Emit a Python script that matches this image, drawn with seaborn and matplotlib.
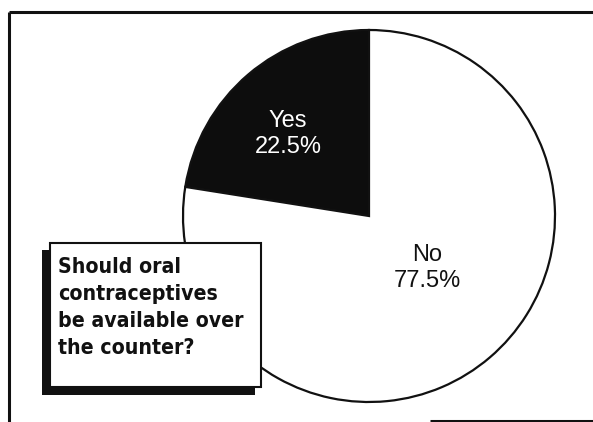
import matplotlib
matplotlib.use("Agg")
import matplotlib.pyplot as plt
import seaborn as sns
from matplotlib.patches import Rectangle

categories = ["Yes", "No"]
shares = [22.5, 77.5]
value_labels = ["22.5%", "77.5%"]
question = "Should oral\ncontraceptives\nbe available over\nthe counter?"

sns.set_theme(style="white")
plt.rcParams["font.family"] = ["Liberation Sans", "DejaVu Sans"]

W, H = 593, 422
fig = plt.figure(figsize=(W / 100, H / 100), dpi=100)
ax = fig.add_axes([0, 0, 1, 1])

def py(y):
    return H - y

cx, cy, r = 369, 216, 186
ax.pie(shares, colors=["#0d0d0d", "white"], startangle=90, counterclock=True,
       center=(cx, py(cy)), radius=r,
       wedgeprops=dict(edgecolor="#111111", linewidth=1.6))

ax.set_xlim(0, W)
ax.set_ylim(0, H)
ax.set_aspect("auto")
ax.axis("off")

# slice labels
ax.text(288, py(134), f"{categories[0]}\n{value_labels[0]}", color="white",
        ha="center", va="center", fontsize=17, linespacing=1.2)
ax.text(427, py(268), f"{categories[1]}\n{value_labels[1]}", color="#111111",
        ha="center", va="center", fontsize=17, linespacing=1.2)

# frame lines
ax.plot([9, 9], [py(12), py(422)], color="#111111", lw=2.2, solid_capstyle="butt")
ax.plot([9, 593], [py(12), py(12)], color="#111111", lw=2.2, solid_capstyle="butt")
ax.plot([430, 593], [py(421), py(421)], color="#111111", lw=2.2, solid_capstyle="butt")

# question box with shadow
ax.add_patch(Rectangle((42, py(395)), 213, 145, facecolor="#111111", edgecolor="none", zorder=5))
ax.add_patch(Rectangle((50, py(387)), 211, 144, facecolor="white", edgecolor="#111111",
                       linewidth=1.5, zorder=6))
ax.text(58, py(257), question, ha="left", va="top", fontsize=15.2, fontweight="bold",
        fontstretch="condensed", family=["DejaVu Sans"],
        color="#111111", linespacing=1.43, zorder=7)

fig.savefig("out.png", dpi=100)
